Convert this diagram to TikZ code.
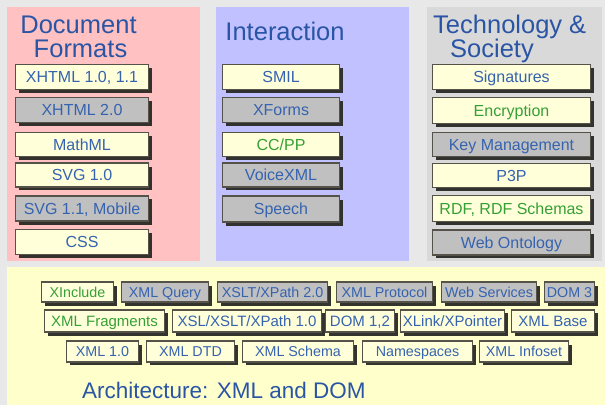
\documentclass[tikz,border=0pt]{standalone}
\usepackage{fontspec}
\setmainfont{Liberation Sans}
\usetikzlibrary{shadows}
\definecolor{bgc}{HTML}{E8E8E8}
\definecolor{pinkc}{HTML}{FFC1C1}
\definecolor{lavc}{HTML}{C1C1FF}
\definecolor{grayp}{HTML}{D9D9D9}
\definecolor{yelp}{HTML}{FFFFCC}
\definecolor{yfill}{HTML}{FFFFDA}
\definecolor{gfill}{HTML}{C0C0C0}
\definecolor{boxline}{HTML}{55524A}
\definecolor{shadowc}{HTML}{2A2A26}
\definecolor{tblue}{HTML}{3563B0}
\definecolor{tgreen}{HTML}{35A035}
\definecolor{ttitle}{HTML}{2A55A5}
\newcommand\bxx[6]{\node[#1, minimum width=#4pt, minimum height=#5pt] (#2) at (#3) {#6};}
\begin{document}
\begin{tikzpicture}[x=1pt,y=-1pt,
  box/.style={draw=boxline, line width=1.6pt, inner sep=0pt, text=tblue, anchor=center,
    drop shadow={shadow xshift=3.5pt, shadow yshift=-3.5pt, fill=shadowc, opacity=0.95}},
  ybox/.style={box, fill=yfill},
  gbox/.style={box, fill=gfill},
  big/.style={font=\fontsize{16}{16}\selectfont, text height=11pt, text depth=0pt},
  small/.style={font=\fontsize{14.3}{14}\selectfont, text height=10pt, text depth=0pt},
  mid/.style={font=\fontsize{15}{15}\selectfont, text height=10.5pt, text depth=0pt},
  title/.style={font=\fontsize{25.5}{25}\selectfont, text=ttitle, inner sep=0pt, anchor=base},
  grn/.style={text=tgreen}]
\useasboundingbox (0,0) rectangle (605,405);
\fill[bgc] (0,0) rectangle (605,405);
% panels
\fill[pinkc] (7,7) rectangle (200,261);
\fill[lavc] (216,7) rectangle (409,261);
\fill[grayp] (427,7) rectangle (602,261);
\fill[yelp] (7,267) rectangle (605,405);
% titles
\node[title] (tdoc1) at (78.5,33.3) {Document};
\node[title] (tdoc2) at (80.5,57.3) {Formats};
\node[title] (tint) at (285,40.7) {Interaction};
\node[title, anchor=base west] (ttec1) at (433,33.3) {Technology \&};
\node[title, anchor=base west] (ttec2) at (450,57.3) {Society};
\node[title, anchor=base west, font=\fontsize{22.5}{22}\selectfont] (tarch) at (82,398.3) {Architecture: XML and DOM};
% document formats
\bxx{ybox,big}{xhtmlA}{82,77}{133}{25}{XHTML 1.0, 1.1}
\bxx{gbox,big}{xhtmlB}{82,110}{133}{25}{XHTML 2.0}
\bxx{ybox,big}{mathml}{82,144.5}{133}{24}{MathML}
\bxx{ybox,big}{svgA}{82,175}{133}{23.5}{SVG 1.0}
\bxx{gbox,big}{svgB}{82,208.5}{133}{25.5}{SVG 1.1, Mobile}
\bxx{ybox,big}{css}{82,242}{133}{25}{CSS}
% interaction
\bxx{ybox,big}{smil}{281,77}{117}{25}{SMIL}
\bxx{gbox,big}{xforms}{281,110}{117}{25}{XForms}
\bxx{ybox,big,grn}{ccpp}{281,144.5}{117}{24}{CC/PP}
\bxx{gbox,big}{voice}{281,175}{117}{23.5}{VoiceXML}
\bxx{gbox,big}{speech}{281,209}{117}{26}{Speech}
% technology & society
\bxx{ybox,big}{sig}{511.5,77}{158}{25}{Signatures}
\bxx{ybox,big,grn}{enc}{511.5,110.5}{158}{26}{Encryption}
\bxx{gbox,big}{keym}{511.5,144.5}{158}{24}{Key Management}
\bxx{ybox,big}{pthreep}{511.5,175.5}{158}{24}{P3P}
\bxx{ybox,big,grn}{rdf}{511.5,208.5}{158}{26}{RDF, RDF Schemas}
\bxx{gbox,big}{webont}{511.5,242.5}{158}{24.5}{Web Ontology}
% architecture row 1
\bxx{ybox,small,grn}{xinc}{77.5,292}{72}{20}{XInclude}
\bxx{gbox,small}{xquery}{165,292}{87}{20}{XML Query}
\bxx{gbox,small}{xslttwo}{272.5,292}{110}{20}{XSLT/XPath 2.0}
\bxx{gbox,small}{xmlprot}{384.5,292}{96}{20}{XML Protocol}
\bxx{gbox,small}{websvc}{489,292}{95}{20}{Web Services}
\bxx{gbox,small}{domthree}{569.5,292}{50}{20}{DOM 3}
% row 2
\bxx{ybox,mid,grn}{xfrag}{104.5,321}{120}{22.5}{XML Fragments}
\bxx{ybox,mid}{xslone}{247,321}{149}{22.5}{XSL/XSLT/XPath 1.0}
\bxx{ybox,mid}{domonetwo}{360,321}{69}{22.5}{DOM 1,2}
\bxx{ybox,mid}{xlink}{452.5,321}{104}{22.5}{XLink/XPointer}
\bxx{ybox,mid}{xbase}{553,321}{83}{22.5}{XML Base}
% row 3
\bxx{ybox,small}{xmlone}{102.5,351.5}{72}{20.5}{XML 1.0}
\bxx{ybox,small}{xdtd}{190.5,351.5}{88}{20.5}{XML DTD}
\bxx{ybox,small}{xschema}{298,351.5}{111}{20.5}{XML Schema}
\bxx{ybox,small}{nspace}{417.5,351.5}{110}{20.5}{Namespaces}
\bxx{ybox,small}{xinfo}{524,351.5}{89}{20.5}{XML Infoset}
\end{tikzpicture}
\end{document}
